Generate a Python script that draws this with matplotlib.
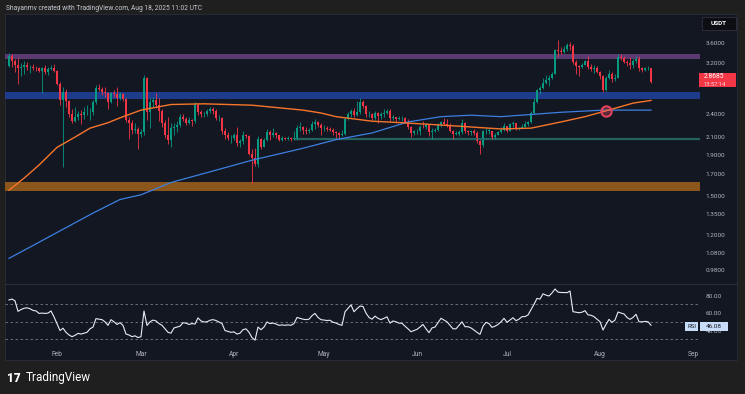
import numpy as np
import matplotlib
matplotlib.use("Agg")
import matplotlib.pyplot as plt
from matplotlib.patches import Rectangle
from matplotlib.ticker import FixedLocator, NullLocator

plt.rcParams["font.family"] = ["Roboto", "DejaVu Sans"]

W, H = 745, 394

# Daily candles, Jan 16 -> Aug 18 (day 0 = Jan 16). Open = previous close.
first_open = 3.15
closes = [
    # Jan 16-31
    3.33, 3.25, 3.18, 3.11, 3.13, 3.17, 3.13, 3.13, 3.12, 3.11, 3.07, 3.12, 3.04, 3.10, 3.12, 3.06,
    # Feb
    2.85, 2.60, 2.72, 2.58, 2.39, 2.30, 2.35, 2.40, 2.38, 2.42, 2.42, 2.43, 2.56, 2.78,
    2.77, 2.72, 2.70, 2.56, 2.70, 2.69, 2.62, 2.69, 2.61, 2.31, 2.28, 2.19, 2.20, 2.14,
    # Mar
    2.16, 2.94, 2.42, 2.56, 2.60, 2.52, 2.44, 2.27, 2.12, 2.07, 2.21, 2.23, 2.25, 2.35, 2.33, 2.27,
    2.32, 2.30, 2.52, 2.42, 2.39, 2.39, 2.44, 2.46, 2.44, 2.34, 2.34, 2.18, 2.12, 2.09, 2.09,
    # Apr
    2.13, 2.03, 2.05, 2.13, 2.11, 1.91, 1.86, 1.80, 2.08, 1.99, 2.06, 2.16, 2.12, 2.15, 2.12,
    2.07, 2.09, 2.08, 2.09, 2.08, 2.09, 2.21, 2.22, 2.19, 2.18, 2.19, 2.26, 2.29, 2.25, 2.21,
    # May
    2.21, 2.20, 2.19, 2.16, 2.15, 2.13, 2.14, 2.33, 2.39, 2.44, 2.38, 2.42, 2.56, 2.51, 2.39, 2.40,
    2.34, 2.41, 2.37, 2.39, 2.41, 2.44, 2.34, 2.35, 2.33, 2.34, 2.34, 2.29, 2.22, 2.15, 2.17,
    # Jun
    2.18, 2.23, 2.22, 2.25, 2.16, 2.18, 2.19, 2.25, 2.29, 2.26, 2.25, 2.18, 2.14, 2.14, 2.16,
    2.27, 2.17, 2.16, 2.17, 2.15, 2.05, 2.01, 2.17, 2.18, 2.18, 2.10, 2.13, 2.16, 2.19, 2.24,
    # Jul
    2.18, 2.26, 2.28, 2.21, 2.21, 2.23, 2.26, 2.29, 2.41, 2.57, 2.75, 2.78, 2.86, 2.91, 2.94, 3.02,
    3.45, 3.43, 3.42, 3.47, 3.55, 3.54, 3.23, 3.15, 3.13, 3.18, 3.24, 3.13, 3.10, 3.11, 3.05,
    # Aug 1-18
    2.97, 2.75, 2.95, 3.02, 2.92, 2.95, 3.32, 3.30, 3.23, 3.20, 3.17, 3.25, 3.28, 3.11, 3.08,
    3.11, 3.12, 2.87,
]
highs = [
    3.40, 3.38, 3.29, 3.30, 3.20, 3.24, 3.22, 3.18, 3.19, 3.16, 3.14, 3.13, 3.17, 3.14, 3.17, 3.19,
    3.08, 2.88, 2.80, 2.76, 2.60, 2.46, 2.49, 2.44, 2.45, 2.49, 2.52, 2.48, 2.60, 2.83,
    2.84, 2.80, 2.79, 2.72, 2.72, 2.75, 2.80, 2.72, 2.70, 2.62, 2.36, 2.32, 2.28, 2.22,
    2.20, 2.99, 2.96, 2.62, 2.64, 2.70, 2.63, 2.47, 2.31, 2.36, 2.27, 2.28, 2.30, 2.39, 2.39, 2.36,
    2.35, 2.33, 2.57, 2.55, 2.45, 2.42, 2.46, 2.50, 2.49, 2.47, 2.38, 2.35, 2.21, 2.16, 2.13,
    2.15, 2.22, 2.08, 2.17, 2.14, 2.13, 1.96, 1.97, 2.11, 2.09, 2.09, 2.20, 2.19, 2.21, 2.16,
    2.13, 2.11, 2.10, 2.11, 2.10, 2.17, 2.25, 2.29, 2.24, 2.22, 2.21, 2.30, 2.33, 2.30, 2.27,
    2.25, 2.24, 2.22, 2.21, 2.18, 2.16, 2.19, 2.35, 2.42, 2.46, 2.48, 2.58, 2.62, 2.60, 2.52, 2.44,
    2.41, 2.44, 2.42, 2.42, 2.46, 2.47, 2.46, 2.38, 2.36, 2.37, 2.37, 2.36, 2.33, 2.24, 2.19,
    2.20, 2.25, 2.30, 2.27, 2.25, 2.21, 2.21, 2.27, 2.30, 2.34, 2.33, 2.27, 2.19, 2.17, 2.19,
    2.33, 2.29, 2.19, 2.19, 2.20, 2.17, 2.07, 2.19, 2.23, 2.21, 2.18, 2.15, 2.18, 2.22, 2.28,
    2.24, 2.27, 2.30, 2.28, 2.23, 2.26, 2.30, 2.30, 2.44, 2.62, 2.77, 2.82, 2.95, 3.00, 3.00, 3.05,
    3.48, 3.66, 3.52, 3.54, 3.60, 3.61, 3.58, 3.27, 3.18, 3.21, 3.26, 3.33, 3.19, 3.17, 3.16,
    3.06, 3.00, 2.97, 3.08, 3.04, 3.02, 3.38, 3.38, 3.34, 3.27, 3.31, 3.28, 3.34, 3.33, 3.14,
    3.14, 3.16, 3.12,
]
lows = [
    3.13, 3.14, 3.05, 2.85, 2.98, 3.02, 3.09, 3.03, 3.08, 3.07, 3.05, 2.70, 3.02, 3.00, 3.08, 3.05,
    2.83, 2.52, 1.77, 2.50, 2.35, 2.27, 2.29, 2.31, 2.26, 2.33, 2.38, 2.32, 2.38, 2.54,
    2.73, 2.67, 2.64, 2.46, 2.55, 2.64, 2.51, 2.60, 2.58, 2.29, 2.08, 2.14, 2.15, 1.96,
    2.10, 2.13, 2.32, 2.21, 2.50, 2.48, 2.30, 2.22, 2.09, 2.02, 1.98, 2.12, 2.16, 2.22, 2.30, 2.25,
    2.26, 2.24, 2.28, 2.38, 2.36, 2.35, 2.37, 2.41, 2.40, 2.32, 2.30, 2.14, 2.08, 2.06, 2.03,
    2.07, 2.00, 1.98, 2.02, 2.09, 1.90, 1.61, 1.78, 1.77, 1.96, 1.98, 2.05, 2.06, 2.10, 2.09,
    2.05, 2.05, 2.06, 2.07, 2.05, 2.07, 2.07, 2.17, 2.14, 2.14, 2.15, 2.18, 2.20, 2.22, 2.12,
    2.18, 2.18, 2.17, 2.12, 2.09, 2.08, 2.11, 2.12, 2.31, 2.36, 2.35, 2.37, 2.40, 2.48, 2.36, 2.36,
    2.31, 2.32, 2.28, 2.33, 2.35, 2.39, 2.30, 2.31, 2.28, 2.31, 2.30, 2.27, 2.20, 2.10, 2.13,
    2.14, 2.13, 2.21, 2.20, 2.11, 2.08, 2.16, 2.18, 2.22, 2.25, 2.23, 2.16, 2.08, 2.12, 2.11,
    2.14, 2.15, 2.12, 2.13, 2.13, 2.03, 1.91, 1.98, 2.14, 2.14, 2.08, 2.08, 2.12, 2.15, 2.17,
    2.16, 2.17, 2.22, 2.19, 2.19, 2.21, 2.22, 2.24, 2.28, 2.40, 2.55, 2.68, 2.76, 2.84, 2.82, 2.92,
    3.01, 3.32, 3.38, 3.40, 3.43, 3.45, 3.19, 3.02, 2.98, 3.11, 3.17, 3.10, 3.06, 3.03, 3.03,
    2.93, 2.72, 2.74, 2.92, 2.88, 2.90, 2.94, 3.26, 3.20, 3.16, 3.10, 3.11, 3.20, 3.06, 3.04,
    3.07, 3.08, 2.86,
]

# RSI(14), one value per day
rsi = [
    # Jan 16-31
    75, 76, 74, 62, 64, 65.5, 66, 65, 63, 62.5, 59.6, 60, 59.6, 60, 62.4, 55.7,
    # Feb
    48, 40, 42.7, 38, 35, 33, 34.5, 36.8, 36, 37, 38, 42, 44, 53.7,
    53, 52.5, 50, 46, 52.5, 50, 47, 49, 45.9, 36, 35, 33, 34, 32,
    # Mar
    33, 62.4, 45.9, 50, 52, 51, 48, 46, 42, 38, 37, 43, 44, 45, 49, 48.5,
    47, 48, 47.5, 54.5, 51, 49.8, 50, 51.8, 52.5, 51.5, 49.8, 48, 40, 39, 38,
    # Apr
    38.5, 36, 37, 41, 42, 38, 32, 29, 44, 41, 44, 49.8, 48, 48.6, 47.5,
    46, 46.5, 46, 46.5, 46, 48, 55, 54, 53, 52.5, 53, 57, 59.6, 55, 52.5,
    # May
    52, 51.5, 51.8, 49.5, 48.6, 47, 46, 61.5, 65.5, 69.4, 61.5, 65, 68, 67.5, 60, 55,
    53, 56.5, 54, 52.5, 54, 55.7, 48.5, 51, 50, 48.5, 48.3, 45, 42, 38.7, 40,
    # Jun
    41.4, 44, 47, 42, 37.6, 43, 44, 49, 54, 52, 50, 46, 42, 42, 46,
    50, 44.4, 44.4, 43, 40.6, 38, 35.7, 45, 49.4, 48, 43.7, 45, 47, 50, 54,
    # Jul
    49.4, 52, 54.7, 51.3, 53, 55.9, 56, 57.8, 64, 70, 76.8, 76, 82, 80.5, 79.5, 83,
    87.5, 84, 83.5, 83.5, 83.3, 85.2, 61.6, 61, 60.4, 61, 62.7, 58, 57.5, 55.9, 53,
    # Aug 1-18
    50.1, 40.6, 47, 52.8, 49.4, 52, 61.2, 60, 59, 55, 52.8, 55, 58.6, 50.1, 50,
    50.5, 50.1, 46.08,
]

# moving averages at a few days
ma_fast_days = [0, 5, 10, 16, 22, 27, 33, 38, 44, 49, 54, 65, 81, 98, 104, 109, 121, 131, 148,
                164, 174, 184, 192, 199, 208, 214]
ma_fast_vals = [1.55, 1.66, 1.79, 1.98, 2.10, 2.21, 2.28, 2.36, 2.45, 2.49, 2.53, 2.54, 2.52,
                2.45, 2.41, 2.36, 2.30, 2.28, 2.24, 2.20, 2.21, 2.29, 2.36, 2.44, 2.55, 2.59]
ma_slow_days = [0, 8, 18, 28, 37, 44, 54, 68, 81, 98, 109, 121, 133, 144, 154, 164, 184, 198, 214]
ma_slow_vals = [1.05, 1.13, 1.24, 1.36, 1.47, 1.51, 1.62, 1.73, 1.84, 1.97, 2.07, 2.15, 2.29,
                2.36, 2.38, 2.36, 2.42, 2.45, 2.45]

month_labels = ["Feb", "Mar", "Apr", "May", "Jun", "Jul", "Aug", "Sep"]
month_days = [16, 44, 75, 105, 136, 166, 197, 228]

price_ticks = [3.6, 3.2, 2.4, 2.1, 1.9, 1.7, 1.5, 1.35, 1.2, 1.08, 0.98]
rsi_ticks = [80, 60, 40]

zone_supply = (3.28, 3.38)
zone_mid = (2.61, 2.72)
zone_demand = (1.543, 1.624)
support_level = 2.075
support_start = 95
cross_day, cross_val = 199, 2.44
last_price = "2.8685"
countdown = "13:57:14"
last_rsi = "46.08"

BG = "#1f1f1f"
PANEL = "#131722"
TXT = "#b2b5be"
UP, DOWN = "#089981", "#f23645"


def px_box(x0, y0, x1, y1):
    return [x0 / W, 1 - y1 / H, (x1 - x0) / W, (y1 - y0) / H]


def fig_rect(fig, x0, y0, x1, y1, **kw):
    fig.add_artist(Rectangle((x0 / W, 1 - y1 / H), (x1 - x0) / W, (y1 - y0) / H,
                             transform=fig.transFigure, **kw))


def fig_text(fig, x, y, s, **kw):
    fig.text(x / W, 1 - y / H, s, **kw)


fig = plt.figure(figsize=(W / 100, H / 100), dpi=100, facecolor=BG)
fig_rect(fig, 5, 14, 737, 360, facecolor=PANEL, edgecolor="#2a2e39", linewidth=0.6, zorder=-10)

days = np.arange(len(closes))
opens = [first_open] + closes[:-1]
# one day = 3 px, Jan 16 sits at x = 9 px
x_lo, x_hi = (5 - 9) / 3, (700 - 9) / 3

# price panel
ax = fig.add_axes(px_box(5, 15, 700, 283))
ax.set_facecolor("none")
ax.set_yscale("log")
ax.set_xlim(x_lo, x_hi)
ax.set_ylim(0.912, 4.22)
for s in ax.spines.values():
    s.set_visible(False)

ax.axhspan(*zone_supply, color="#5b3a72", lw=0)
ax.axhspan(*zone_mid, color="#1f3c8c", lw=0)
ax.axhspan(*zone_demand, color="#8a561c", lw=0)
ax.hlines(support_level, support_start, x_hi, color="#23625f", lw=1.6)

cols = [UP if c >= o else DOWN for o, c in zip(opens, closes)]
ax.vlines(days, lows, highs, colors=cols, lw=0.6)
bottoms = [min(o, c) for o, c in zip(opens, closes)]
heights = [max(abs(c - o), 0.004) for o, c in zip(opens, closes)]
ax.bar(days, heights, bottom=bottoms, width=0.66, color=cols, lw=0)

ax.plot(ma_slow_days, ma_slow_vals, color="#3d7fe0", lw=0.9)
ax.plot(ma_fast_days, ma_fast_vals, color="#f7752b", lw=1.0)
ax.plot(cross_day, cross_val, "o", ms=7.5, mfc=(0.95, 0.3, 0.42, 0.35),
        mec="#e8435d", mew=1.4)

ax.yaxis.set_major_locator(FixedLocator(price_ticks))
ax.yaxis.set_minor_locator(NullLocator())
ax.set_yticklabels([f"{t:.4f}" for t in price_ticks])
ax.yaxis.tick_right()
ax.tick_params(axis="y", length=0, pad=4, labelsize=4.6, labelcolor=TXT)
ax.set_xticks([])

# RSI panel
ax2 = fig.add_axes(px_box(5, 285, 700, 345))
ax2.set_facecolor("none")
ax2.set_xlim(x_lo, x_hi)
ax2.set_ylim(23.5, 92.1)
for s in ax2.spines.values():
    s.set_visible(False)
for lvl in (70, 50, 30):
    ax2.axhline(lvl, color="#787b86", lw=0.6, ls=(0, (3, 3)))
ax2.plot(days, rsi, color="#e6ebf5", lw=0.8)
ax2.set_yticks(rsi_ticks)
ax2.set_yticklabels([f"{t:.2f}" for t in rsi_ticks])
ax2.yaxis.tick_right()
ax2.tick_params(axis="y", length=0, pad=4, labelsize=4.6, labelcolor=TXT)
ax2.set_xticks(month_days)
ax2.set_xticklabels(month_labels)
ax2.tick_params(axis="x", length=0, pad=4, labelsize=4.8, labelcolor=TXT)

# panel separator
fig.add_artist(plt.Line2D([5 / W, 737 / W], [1 - 284 / H] * 2, transform=fig.transFigure,
                          color="#2a2e39", lw=0.8, zorder=-5))

# header and tags
fig_text(fig, 6, 8, "Shayanmv created with TradingView.com, Aug 18, 2025 11:02 UTC",
         color="#c9ccd4", fontsize=4.8, va="center")
fig_rect(fig, 702, 17, 736, 30, facecolor="#0c0e13", edgecolor="#363a45", linewidth=0.5)
fig_text(fig, 719, 23.5, "USDT", color="white", fontsize=4.6, ha="center", va="center",
         fontweight="bold")
fig_rect(fig, 699, 73, 736, 87, facecolor=DOWN, lw=0)
fig_text(fig, 704, 77, last_price, color="white", fontsize=4.8, va="center")
fig_text(fig, 704, 84, countdown, color="#fbd3d8", fontsize=4.2, va="center")
fig_rect(fig, 685, 322, 698, 331, facecolor="#c7dcf7", lw=0)
fig_text(fig, 691.5, 326.5, "RSI", color="#131722", fontsize=4.4, ha="center", va="center")
fig_rect(fig, 700, 322, 728, 331, facecolor="#c7dcf7", lw=0)
fig_text(fig, 714, 326.5, last_rsi, color="#131722", fontsize=4.6, ha="center", va="center")

# logo
fig_text(fig, 7, 378, "17", color="white", fontsize=8.5, fontweight="heavy", va="center")
fig_text(fig, 26, 378, "TradingView", color="white", fontsize=8.5, va="center")

fig.savefig("out.png", dpi=100, facecolor=BG)
